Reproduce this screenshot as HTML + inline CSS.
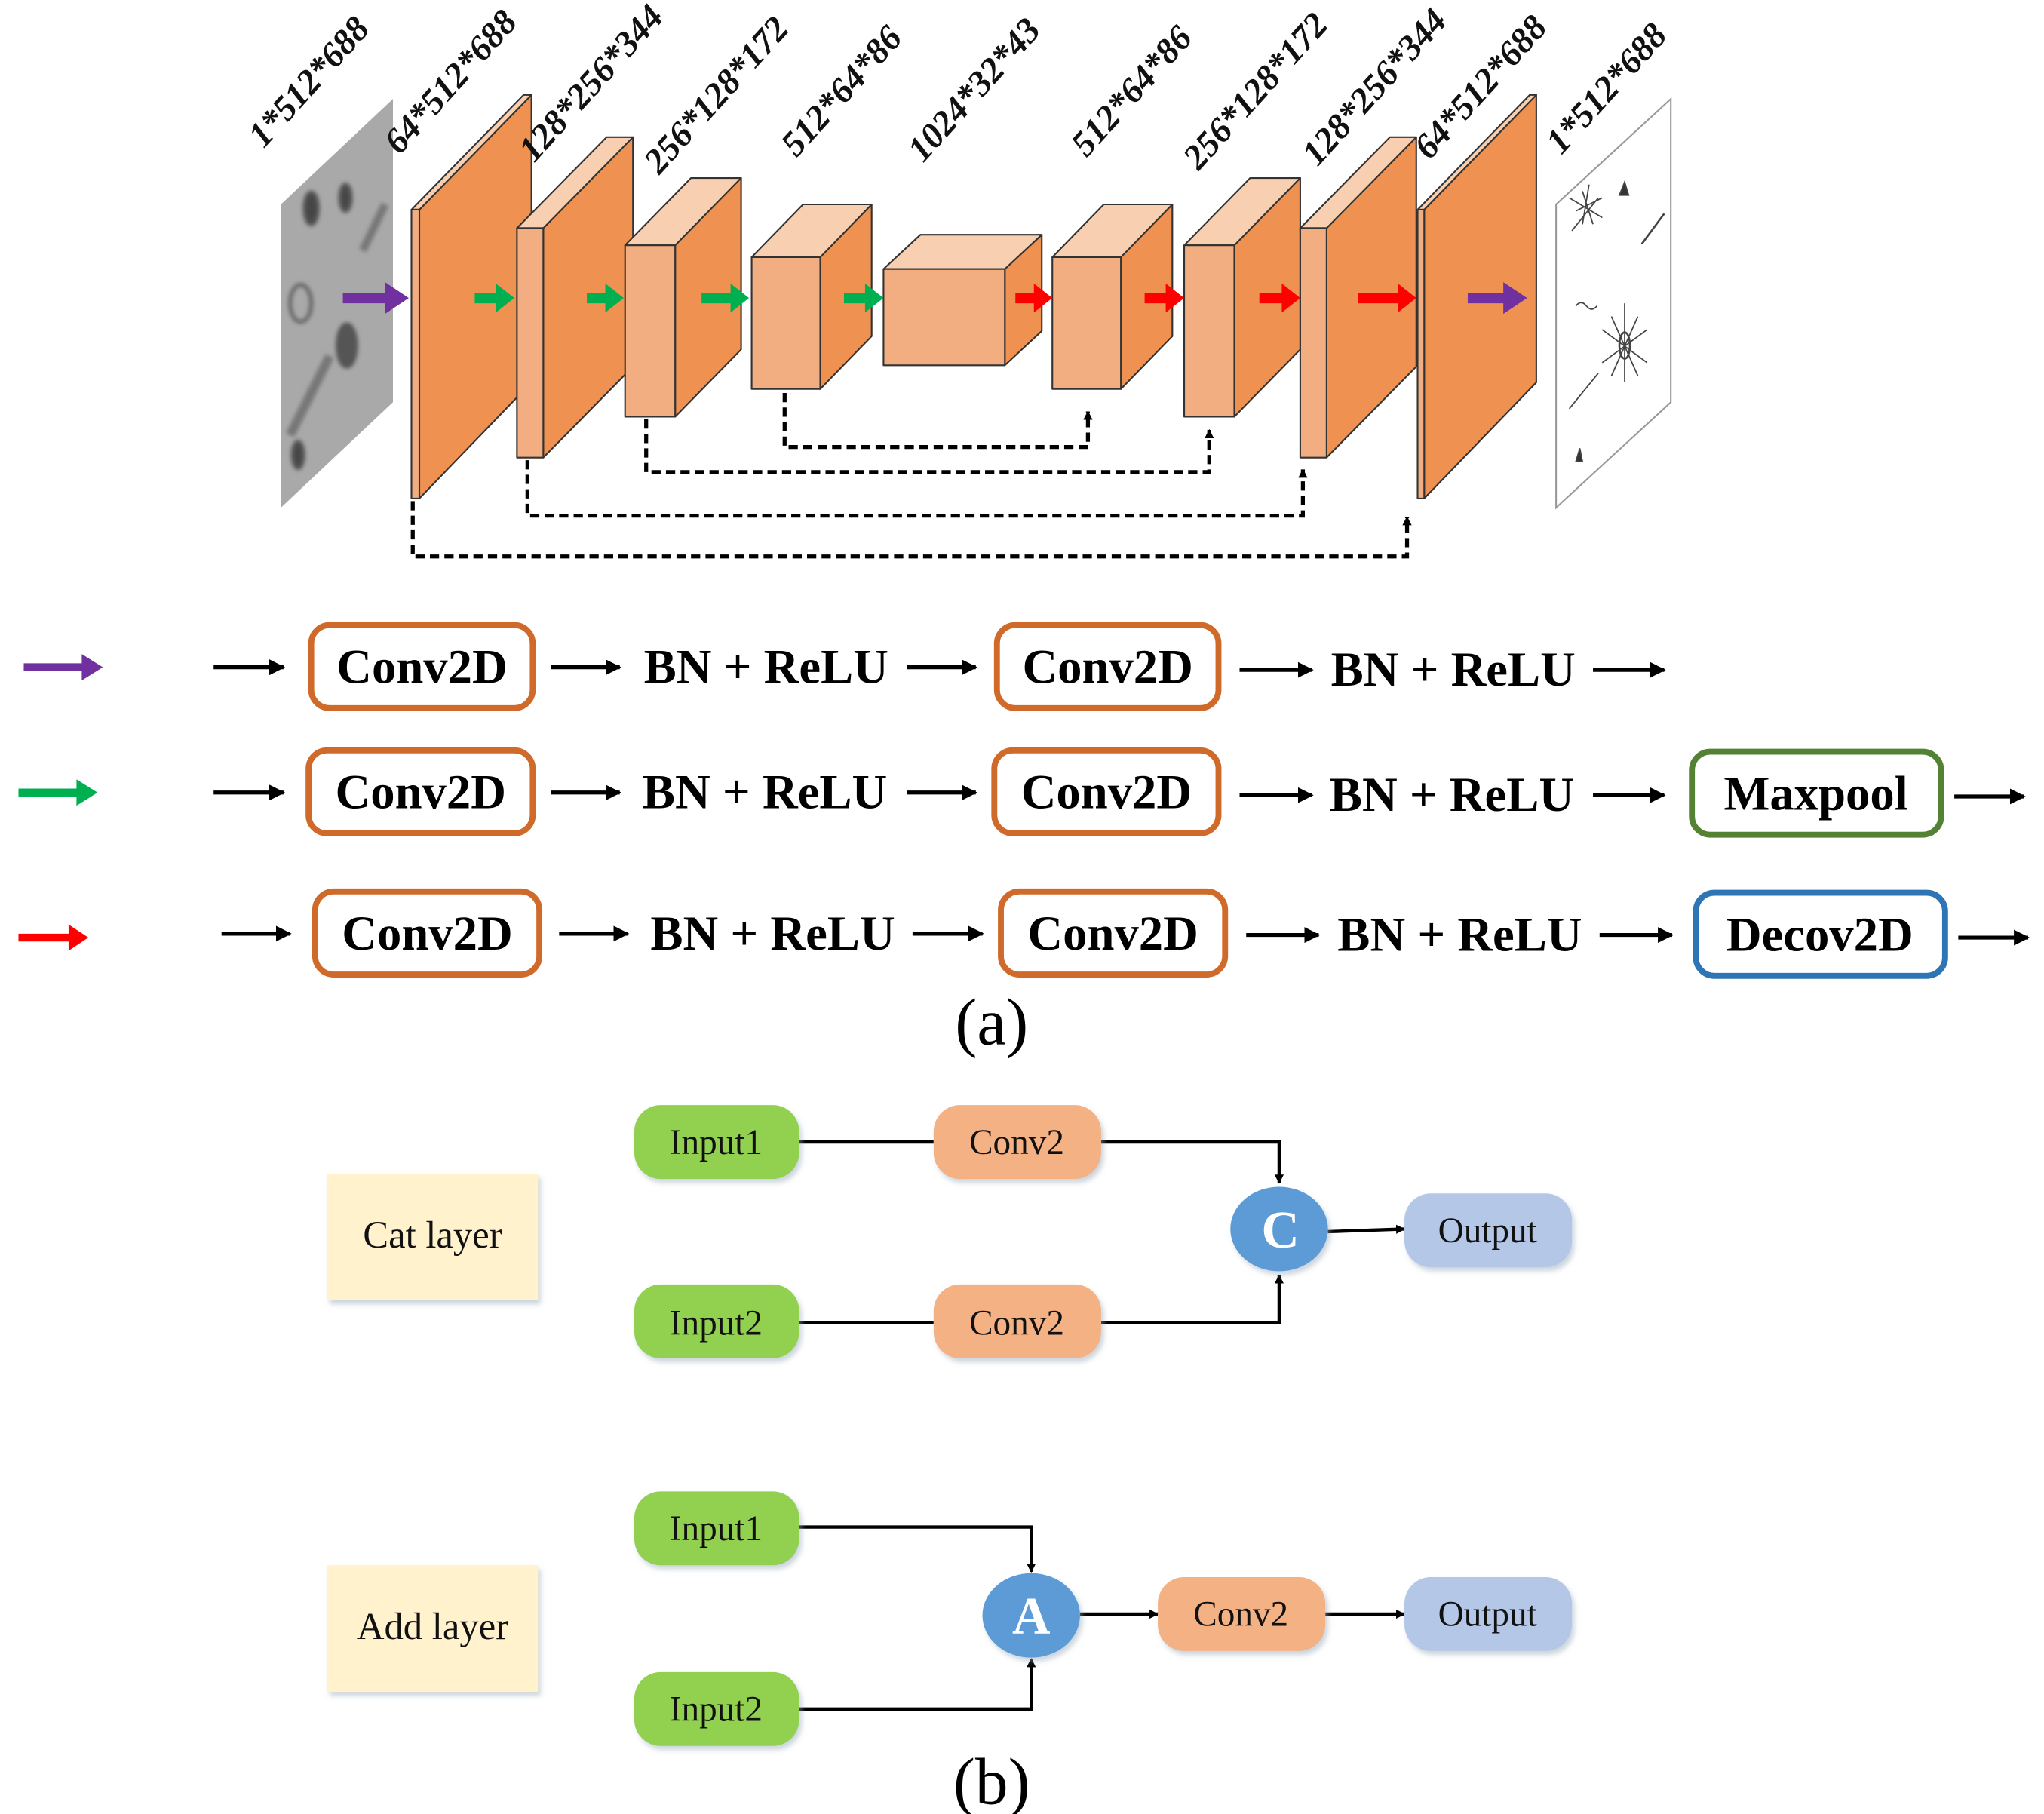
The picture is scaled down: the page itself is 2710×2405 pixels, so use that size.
<!DOCTYPE html>
<html><head><meta charset="utf-8"><style>
html,body{margin:0;padding:0;background:#fff}
svg{display:block}
</style></head><body>
<svg width="2710" height="2405" viewBox="0 0 1550 1375.6" preserveAspectRatio="none" xmlns="http://www.w3.org/2000/svg" font-family="'Liberation Serif', serif">
<defs>
<marker id="ah" viewBox="0 0 10 10" refX="9" refY="5" markerWidth="7" markerHeight="7" markerUnits="userSpaceOnUse" orient="auto"><path d="M0,0 L10,5 L0,10 z" fill="#000"/></marker>
<marker id="ah2" viewBox="0 0 10 10" refX="9" refY="5" markerWidth="12" markerHeight="12" markerUnits="userSpaceOnUse" orient="auto"><path d="M0,0 L10,5 L0,10 z" fill="#000"/></marker>
<filter id="sh" x="-10%" y="-10%" width="130%" height="140%"><feDropShadow dx="2" dy="3" stdDeviation="2" flood-color="#9ab" flood-opacity="0.5"/></filter>
<filter id="bl"><feGaussianBlur stdDeviation="1.5"/></filter>
</defs>

<!-- input image -->
<polygon points="213,155 298,75 298,305 213,385" fill="#a9a9a9"/>
<g filter="url(#bl)" fill="none" stroke="#555" stroke-width="3">
<ellipse cx="236" cy="158" rx="5" ry="12" fill="#444"/>
<ellipse cx="262" cy="150" rx="4" ry="10" fill="#444"/>
<line x1="275" y1="190" x2="292" y2="155" stroke-width="6" stroke="#777"/>
<ellipse cx="228" cy="230" rx="8" ry="14" stroke="#666"/>
<ellipse cx="263" cy="262" rx="7" ry="16" fill="#555"/>
<line x1="220" y1="330" x2="250" y2="270" stroke-width="7" stroke="#777"/>
<ellipse cx="226" cy="345" rx="4" ry="10" fill="#444"/>
</g>
<!-- output image -->
<polygon points="1180,155 1267,75 1267,305 1180,385" fill="#fff" stroke="#999" stroke-width="1.2"/>
<g stroke="#444" stroke-width="1" fill="none">
<path d="M1200,145 l8,25 M1195,160 l20,-10 M1190,150 l25,15 M1205,140 l-5,30 M1192,175 l20,-25"/>
<path d="M1228,148 l4,-10 l3,10 z" fill="#333"/>
<line x1="1245" y1="185" x2="1262" y2="162" stroke-width="1.5"/>
<path d="M1195,232 q4,-5 8,0 q4,5 8,0"/>
<ellipse cx="1232" cy="262" rx="4" ry="10" stroke-width="1.5"/>
<path d="M1232,230 l0,60 M1215,250 l34,25 M1215,275 l34,-25 M1222,240 l20,45 M1242,240 l-20,45"/>
<line x1="1190" y1="310" x2="1212" y2="283"/>
<path d="M1195,350 l3,-10 l2,10 z" fill="#333"/>
</g>

<g stroke="#333" stroke-width="1.2" stroke-linejoin="round">
<polygon points="318,159 403,72 403,290 318,378" fill="#ef9151"/>
<polygon points="312,159 318,159 403,72 397,72" fill="#f8cfb0"/>
<rect x="312" y="159" width="6" height="219" fill="#f2ae80"/>
<polygon points="412,173 480,104 480,278 412,347" fill="#ef9151"/>
<polygon points="392,173 412,173 480,104 460,104" fill="#f8cfb0"/>
<rect x="392" y="173" width="20" height="174" fill="#f2ae80"/>
<polygon points="512,186 562,135 562,265 512,316" fill="#ef9151"/>
<polygon points="474,186 512,186 562,135 524,135" fill="#f8cfb0"/>
<rect x="474" y="186" width="38" height="130" fill="#f2ae80"/>
<polygon points="622,195 661,155 661,255 622,295" fill="#ef9151"/>
<polygon points="570,195 622,195 661,155 609,155" fill="#f8cfb0"/>
<rect x="570" y="195" width="52" height="100" fill="#f2ae80"/>
<polygon points="762,204 790,178 790,251 762,277" fill="#ef9151"/>
<polygon points="670,204 762,204 790,178 698,178" fill="#f8cfb0"/>
<rect x="670" y="204" width="92" height="73" fill="#f2ae80"/>
<polygon points="850,195 889,155 889,255 850,295" fill="#ef9151"/>
<polygon points="798,195 850,195 889,155 837,155" fill="#f8cfb0"/>
<rect x="798" y="195" width="52" height="100" fill="#f2ae80"/>
<polygon points="936,186 986,135 986,265 936,316" fill="#ef9151"/>
<polygon points="898,186 936,186 986,135 948,135" fill="#f8cfb0"/>
<rect x="898" y="186" width="38" height="130" fill="#f2ae80"/>
<polygon points="1006,173 1074,104 1074,278 1006,347" fill="#ef9151"/>
<polygon points="986,173 1006,173 1074,104 1054,104" fill="#f8cfb0"/>
<rect x="986" y="173" width="20" height="174" fill="#f2ae80"/>
<polygon points="1080,159 1165,72 1165,290 1080,378" fill="#ef9151"/>
<polygon points="1075,159 1080,159 1165,72 1160,72" fill="#f8cfb0"/>
<rect x="1075" y="159" width="5" height="219" fill="#f2ae80"/>
</g>

<g>
<path d="M260,222 h32 v-8 l18,12 l-18,12 v-8 h-32 z" fill="#7030a0"/>
<path d="M360,222 h16 v-7 l14,11 l-14,11 v-7 h-16 z" fill="#00b050"/>
<path d="M445,222 h14 v-7 l14,11 l-14,11 v-7 h-14 z" fill="#00b050"/>
<path d="M532,222 h22 v-7 l14,11 l-14,11 v-7 h-22 z" fill="#00b050"/>
<path d="M640,222 h16 v-7 l14,11 l-14,11 v-7 h-16 z" fill="#00b050"/>
<path d="M770,222 h14 v-7 l14,11 l-14,11 v-7 h-14 z" fill="#ff0000"/>
<path d="M868,222 h16 v-7 l14,11 l-14,11 v-7 h-16 z" fill="#ff0000"/>
<path d="M955,222 h17 v-7 l14,11 l-14,11 v-7 h-17 z" fill="#ff0000"/>
<path d="M1030,222 h30 v-7 l14,11 l-14,11 v-7 h-30 z" fill="#ff0000"/>
<path d="M1113,222 h27 v-8 l18,12 l-18,12 v-8 h-27 z" fill="#7030a0"/>
</g>

<g fill="none" stroke="#000" stroke-width="3" stroke-dasharray="7,4">
<path d="M595,298 V339 H825 V312" marker-end="url(#ah)"/>
<path d="M490,318 V358 H917 V326" marker-end="url(#ah)"/>
<path d="M400,349 V391 H988 V356" marker-end="url(#ah)"/>
<path d="M313,380 V422 H1067 V392" marker-end="url(#ah)"/>
</g>

<g font-weight="bold" font-style="italic" font-size="27" fill="#111">
<text transform="translate(200,113) rotate(-48)">1*512*688</text>
<text transform="translate(303,118) rotate(-48)">64*512*688</text>
<text transform="translate(405,124) rotate(-48)">128*256*344</text>
<text transform="translate(500,133) rotate(-48)">256*128*172</text>
<text transform="translate(604,120) rotate(-48)">512*64*86</text>
<text transform="translate(700,124) rotate(-48)">1024*32*43</text>
<text transform="translate(824,120) rotate(-48)">512*64*86</text>
<text transform="translate(909,130) rotate(-48)">256*128*172</text>
<text transform="translate(999,127) rotate(-48)">128*256*344</text>
<text transform="translate(1084,122) rotate(-48)">64*512*688</text>
<text transform="translate(1184,118) rotate(-48)">1*512*688</text>
</g>

<g>
<path d="M18,503 h44 v-7 l16,10 l-16,10 v-7 h-44 z" fill="#7030a0"/>
<path d="M14,598 h44 v-7 l16,10 l-16,10 v-7 h-44 z" fill="#00b050"/>
<path d="M14,708 h38 v-7 l15,10 l-15,10 v-7 h-38 z" fill="#ff0000"/>
</g>
<g stroke="#000" stroke-width="3" marker-end="url(#ah2)">
<line x1="162" y1="506" x2="215" y2="506"/>
<line x1="418" y1="506" x2="470" y2="506"/>
<line x1="688" y1="506" x2="740" y2="506"/>
<line x1="940" y1="508" x2="995" y2="508"/>
<line x1="1208" y1="508" x2="1262" y2="508"/>
<line x1="162" y1="601" x2="215" y2="601"/>
<line x1="418" y1="601" x2="470" y2="601"/>
<line x1="688" y1="601" x2="740" y2="601"/>
<line x1="940" y1="603" x2="995" y2="603"/>
<line x1="1208" y1="603" x2="1262" y2="603"/>
<line x1="1482" y1="604" x2="1535" y2="604"/>
<line x1="168" y1="708" x2="220" y2="708"/>
<line x1="424" y1="708" x2="476" y2="708"/>
<line x1="692" y1="708" x2="745" y2="708"/>
<line x1="945" y1="709" x2="1000" y2="709"/>
<line x1="1213" y1="709" x2="1268" y2="709"/>
<line x1="1485" y1="711" x2="1538" y2="711"/>
</g>
<g fill="#fff" stroke-width="4.5">
<rect x="236" y="474" width="168" height="63" rx="14" stroke="#d06a2a"/>
<rect x="756" y="474" width="168" height="63" rx="14" stroke="#d06a2a"/>
<rect x="234" y="569" width="170" height="63" rx="14" stroke="#d06a2a"/>
<rect x="754" y="569" width="170" height="63" rx="14" stroke="#d06a2a"/>
<rect x="1283" y="570" width="189" height="63" rx="14" stroke="#548235"/>
<rect x="239" y="676" width="170" height="63" rx="14" stroke="#d06a2a"/>
<rect x="759" y="676" width="170" height="63" rx="14" stroke="#d06a2a"/>
<rect x="1286" y="677" width="189" height="63" rx="14" stroke="#2e75b6"/>
</g>
<g font-weight="bold" font-size="37" fill="#000" text-anchor="middle">
<text x="320" y="518">Conv2D</text>
<text x="840" y="518">Conv2D</text>
<text x="581" y="518">BN + ReLU</text>
<text x="1102" y="520">BN + ReLU</text>
<text x="319" y="613">Conv2D</text>
<text x="839" y="613">Conv2D</text>
<text x="580" y="613">BN + ReLU</text>
<text x="1101" y="615">BN + ReLU</text>
<text x="1377" y="614">Maxpool</text>
<text x="324" y="720">Conv2D</text>
<text x="844" y="720">Conv2D</text>
<text x="586" y="720">BN + ReLU</text>
<text x="1107" y="721">BN + ReLU</text>
<text x="1380" y="721">Decov2D</text>
</g>
<text x="752" y="792" font-size="50" text-anchor="middle">(a)</text>

<g filter="url(#sh)">
<rect x="248" y="890" width="160" height="96" fill="#fff2cc"/>
<rect x="248" y="1187" width="160" height="96" fill="#fff2cc"/>
</g>
<g fill="none" stroke="#000" stroke-width="2.5">
<line x1="606" y1="866" x2="708" y2="866"/>
<path d="M835,866 H970 V897" marker-end="url(#ah)"/>
<line x1="606" y1="1003" x2="708" y2="1003"/>
<path d="M835,1003 H970 V967" marker-end="url(#ah)"/>
<line x1="1007" y1="934" x2="1065" y2="932" marker-end="url(#ah)"/>
<path d="M606,1158 H782 V1192" marker-end="url(#ah)"/>
<path d="M606,1296 H782 V1258" marker-end="url(#ah)"/>
<line x1="819" y1="1224" x2="878" y2="1224" marker-end="url(#ah)"/>
<line x1="1005" y1="1224" x2="1065" y2="1224" marker-end="url(#ah)"/>
</g>
<g filter="url(#sh)">
<rect x="481" y="838" width="125" height="56" rx="20" fill="#92d050"/>
<rect x="708" y="838" width="127" height="56" rx="20" fill="#f4b183"/>
<rect x="481" y="974" width="125" height="56" rx="20" fill="#92d050"/>
<rect x="708" y="974" width="127" height="56" rx="20" fill="#f4b183"/>
<rect x="1065" y="905" width="127" height="56" rx="20" fill="#b4c7e7"/>
<ellipse cx="970" cy="932" rx="37" ry="32" fill="#5b9bd5"/>
<rect x="481" y="1131" width="125" height="56" rx="20" fill="#92d050"/>
<rect x="481" y="1268" width="125" height="56" rx="20" fill="#92d050"/>
<ellipse cx="782" cy="1225" rx="37" ry="32" fill="#5b9bd5"/>
<rect x="878" y="1196" width="127" height="56" rx="20" fill="#f4b183"/>
<rect x="1065" y="1196" width="127" height="56" rx="20" fill="#b4c7e7"/>
</g>
<g font-size="27" fill="#111" text-anchor="middle">
<text x="328" y="946" font-size="29">Cat layer</text>
<text x="328" y="1243" font-size="29">Add layer</text>
<text x="543" y="875">Input1</text>
<text x="771" y="875">Conv2</text>
<text x="543" y="1012">Input2</text>
<text x="771" y="1012">Conv2</text>
<text x="1128" y="942">Output</text>
<text x="543" y="1168">Input1</text>
<text x="543" y="1305">Input2</text>
<text x="941" y="1233">Conv2</text>
<text x="1128" y="1233">Output</text>
</g>
<g font-size="40" font-weight="bold" fill="#fff" text-anchor="middle">
<text x="971" y="946">C</text>
<text x="782" y="1239">A</text>
</g>
<text x="752" y="1368" font-size="50" text-anchor="middle">(b)</text>
</svg>
</body></html>
